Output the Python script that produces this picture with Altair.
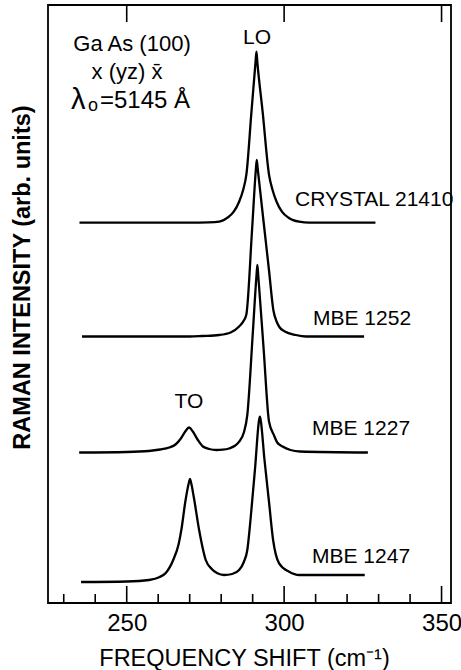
import altair as alt
import pandas as pd

# Raman spectra of GaAs (100), each drawn on its own baseline offset.
sample_names = ["CRYSTAL 21410", "MBE 1252", "MBE 1227", "MBE 1247"]
baseline_offsets = [380.3, 266.5, 150.5, 21.0]

crystal_freq = [235, 270, 276, 279.4, 282, 284, 285.7, 287, 288.0, 289.6, 290.9, 291.2,
                291.5, 293.2, 295.2, 296.3, 297.6, 299.3, 301.4, 304.8, 308, 329]
crystal_int = [0, 0, 0.3, 1, 5, 11, 21, 33, 48, 110, 160, 171,
               160, 110, 48, 33, 21, 11, 5, 1, 0, 0]

mbe1252_freq = [235.8, 270, 274, 279.4, 283, 285.7, 287.2, 288.0, 289.8, 291.0, 291.3,
                291.6, 293.5, 295.2, 296.6, 297.6, 298.6, 300.2, 303.7, 307, 325.4]
mbe1252_int = [0, 0, 0.5, 1.5, 4, 10, 16, 22, 106, 166, 176.5,
               168, 114, 66, 26, 15, 9, 5, 1.5, 0, 0]

mbe1227_freq = [234.9, 250, 257, 260.6, 263.5, 265.5, 267.2, 268.6, 269.8, 271.0, 272.5,
                274.2, 276.2, 278.5, 280.5, 282.5, 284.5, 285.7, 287.2, 288.3, 290.0,
                291.2, 291.5, 291.8, 293.5, 295.2, 296.8, 297.8, 299.5, 302, 305, 326.6]
mbe1227_int = [0, 0.5, 1.5, 3, 5, 8, 14, 21, 25, 21, 13,
               6, 3.5, 2.5, 2.8, 4, 7, 10.8, 20, 37.5, 117,
               176, 187.5, 176, 103, 31, 17, 10, 6, 2.5, 1, 0]

mbe1247_freq = [235.5, 250, 257.1, 260.5, 262.4, 264.9, 266.5, 267.4, 268.6, 269.8, 270.1,
                270.4, 271.3, 273.0, 275.1, 277, 278.8, 280.9, 283.5, 285.7, 287.2,
                288.3, 289.4, 290.8, 292.0, 292.3, 292.6, 293.7, 295.2, 296.5, 298.4,
                301.6, 304.8, 325.6]
mbe1247_int = [0, 0.5, 2, 5, 9, 23, 38, 53, 80, 100, 103,
               100, 85, 52, 22, 13, 8.7, 7, 8, 12, 20,
               32, 65, 115, 161, 165.3, 161, 124, 80, 42, 18.7,
               10.3, 7, 7]

series_freq = [crystal_freq, mbe1252_freq, mbe1227_freq, mbe1247_freq]
series_int = [crystal_int, mbe1252_int, mbe1227_int, mbe1247_int]

rows = []
for name, offset, fs, ys in zip(sample_names, baseline_offsets, series_freq, series_int):
    for f, y in zip(fs, ys):
        rows.append({"sample": name, "freq": f, "intensity": offset + y})
spectra = pd.DataFrame(rows)

minor_ticks = [230, 240, 260, 270, 280, 290, 310, 320, 330, 340]
major_ticks = [250, 300, 350]

W, H = 403, 598
FONT = "Liberation Sans"

x_scale = alt.Scale(domain=[225, 353], nice=False, zero=False)
y_scale = alt.Scale(domain=[0, 598], nice=False, zero=False)

lines = alt.Chart(spectra).mark_line(
    color="black", strokeWidth=2.3, interpolate="monotone"
).encode(
    x=alt.X("freq:Q", scale=x_scale,
            axis=alt.Axis(values=major_ticks, format="d", domain=False, ticks=False,
                          grid=False, labelFont=FONT, labelFontSize=24,
                          labelColor="black", labelPadding=8,
                          title="FREQUENCY SHIFT (cm\u207b\u00b9)",
                          titleFont=FONT, titleFontSize=23.5, titleFontWeight="normal",
                          titleColor="black", titleX=196, titleY=62,
                          titleBaseline="alphabetic")),
    y=alt.Y("intensity:Q", scale=y_scale,
            axis=alt.Axis(labels=False, ticks=False, domain=False, grid=False,
                          title="RAMAN  INTENSITY (arb. units)",
                          titleFont=FONT, titleFontSize=23.5, titleFontWeight="bold",
                          titleColor="black", titleX=-19, titleY=272,
                          titleBaseline="alphabetic")),
    detail="sample:N",
)

tick_df_minor = pd.DataFrame({"freq": minor_ticks})
tick_df_major = pd.DataFrame({"freq": major_ticks})

minor_rules = alt.Chart(tick_df_minor).mark_rule(color="black", strokeWidth=1.6).encode(
    x=alt.X("freq:Q", scale=x_scale), y=alt.value(H), y2=alt.value(H - 9))
major_rules = alt.Chart(tick_df_major).mark_rule(color="black", strokeWidth=1.6).encode(
    x=alt.X("freq:Q", scale=x_scale), y=alt.value(H), y2=alt.value(H - 17))
top_rules = alt.Chart(tick_df_major).mark_rule(color="black", strokeWidth=1.6).encode(
    x=alt.X("freq:Q", scale=x_scale), y=alt.value(0), y2=alt.value(17))

# Annotation text: (text, x px, y px, align, size)
annotations = [
    ("Ga As (100)", 84, 39, "center", 22),
    ("x (yz) x\u0304", 79, 67, "center", 22),
    ("\u03bb", 23, 95, "left", 29),
    ("o", 40, 101, "left", 18),
    ("=5145 \u00c5", 52, 96, "left", 24),
    ("LO", 209, 33, "center", 21),
    ("CRYSTAL 21410", 247, 195, "left", 21),
    ("MBE  1252", 265, 314, "left", 21),
    ("TO", 141, 397, "center", 21),
    ("MBE  1227", 264, 424, "left", 21),
    ("MBE  1247", 264, 552, "left", 21),
]

text_layers = []
for txt, px, py, al, size in annotations:
    text_layers.append(
        alt.Chart(pd.DataFrame({"label": [txt]})).mark_text(
            font=FONT, fontSize=size, color="black", align=al, baseline="middle"
        ).encode(x=alt.value(px), y=alt.value(py), text="label:N")
    )

chart = alt.layer(lines, minor_rules, major_rules, top_rules, *text_layers).properties(
    width=W, height=H,
    autosize=alt.AutoSizeParams(type="none"),
    padding={"left": 48, "top": 5, "right": 10, "bottom": 67},
).configure_view(stroke="black", strokeWidth=1.8)

chart.save("out.html", embed_options={"renderer": "svg", "actions": False})
